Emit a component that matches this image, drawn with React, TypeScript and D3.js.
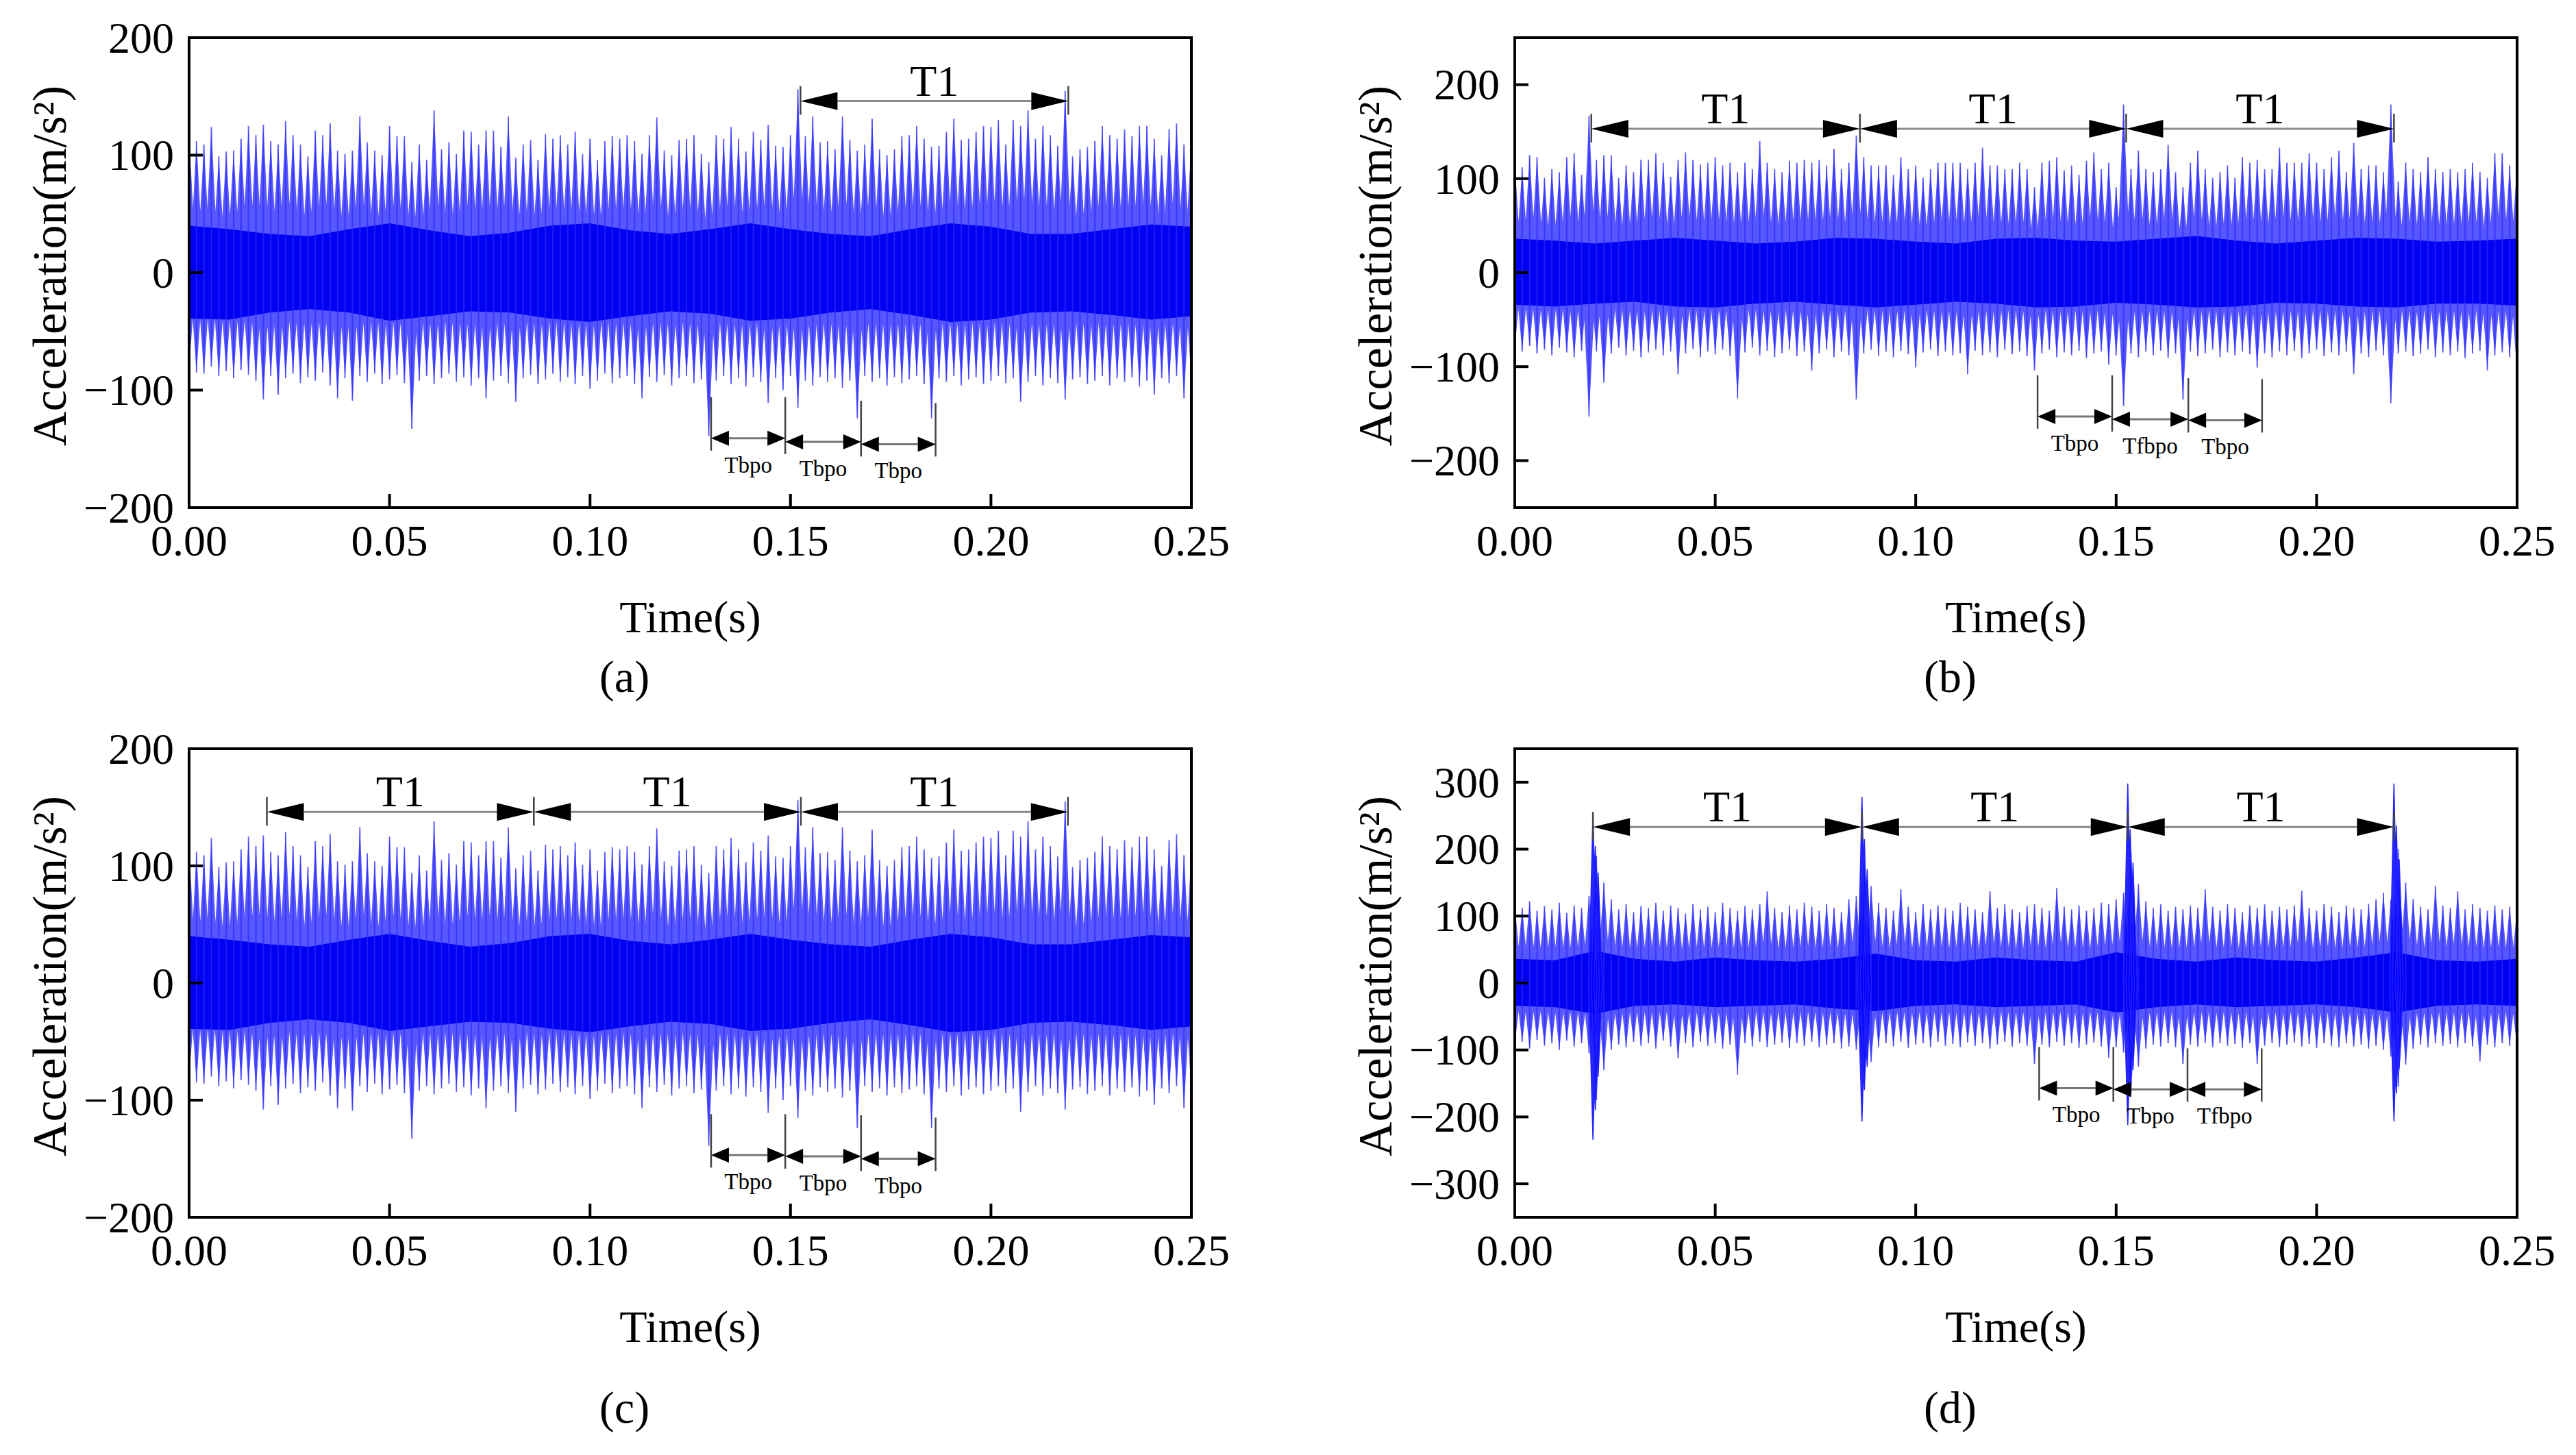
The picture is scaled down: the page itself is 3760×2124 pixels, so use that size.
import React from 'react';
import * as d3 from 'd3';

const W = 3760;
const H = 2124;
const FONT = "'Liberation Serif', 'Times New Roman', Times, serif";

// shared axes
const T_MAX = 0.25;
const CORE_DT = 0.01;
const xTicks = [0, 0.05, 0.1, 0.15, 0.2, 0.25];
const yTicks200 = [-200, -100, 0, 100, 200];
const yTicks300 = [-300, -200, -100, 0, 100, 200, 300];

// signal A (panels a and c): peak of every impact, ~0.00185 s apart
const sigA_hi = [
  120, 112, 109, 124, 99, 103, 104, 114, 125, 117, 126, 112, 109, 129, 117, 109, 99, 121, 117, 127,
  104, 101, 104, 133, 111, 104, 100, 125, 116, 116, 94, 109, 96, 138, 105, 111, 101, 121, 120, 109,
  121, 121, 107, 133, 98, 109, 113, 96, 118, 114, 117, 109, 120, 101, 114, 96, 112, 116, 114, 117,
  112, 101, 117, 132, 104, 100, 113, 114,
  117, 101, 94, 117, 114, 124, 114, 103, 120, 113, 126, 108, 107, 117, 156, 116, 133, 111, 112, 105,
  133, 113, 104, 109, 131, 105, 100, 105, 116, 117, 125, 114, 107, 108, 120, 131, 113, 114, 120, 125,
  124, 130, 109, 130, 125, 138, 114, 125, 117, 108, 155, 99, 105, 107, 112, 125, 117, 114, 122, 116,
  125, 125, 114, 100, 122, 127, 109, 114,
];
const sigA_lo = [
  -82, -85, -86, -80, -88, -84, -90, -83, -87, -92, -108, -88, -104, -90, -86, -94, -89, -92, -85, -96,
  -107, -90, -109, -88, -93, -86, -95, -91, -87, -94, -133, -92, -88, -95, -90, -86, -93, -89, -96, -90,
  -107, -92, -88, -94, -110, -90, -87, -95, -91, -86, -93, -89, -95, -88, -99, -92, -86, -94, -90, -88,
  -95, -107, -89, -93, -87, -96, -90, -88, -94, -91, -139, -92, -88, -95, -90, -97, -89, -93, -111, -90,
  -100, -88, -115, -92, -96, -89, -93, -90, -98, -92, -124, -88, -93, -90, -96, -89, -94, -91, -88, -95,
  -124, -90, -93, -88, -96, -91, -89, -95, -92, -88, -94, -90, -110, -93, -88, -96, -90, -94, -108, -91,
  -89, -95, -92, -88, -96, -90, -93, -89, -97, -92, -104, -90, -94, -88, -107, -92,
];
const coreA_hi = [40, 37, 33, 31, 37, 42, 36, 31, 34, 40, 42, 36, 33, 37, 42, 37, 33, 31, 37, 42, 39, 33, 33, 37, 41, 39];
const coreA_lo = [-39, -40, -34, -31, -34, -41, -37, -33, -34, -39, -42, -37, -33, -35, -41, -39, -34, -31, -36, -42, -40, -34, -33, -36, -40, -37];

// signal B (panel b)
const sigB_hi = [
  117, 112, 125, 123, 101, 110, 107, 123, 127, 104, 167, 120, 125, 125, 101, 114, 107, 120, 120, 127,
  117, 102, 120, 128, 120, 115, 117, 123, 114, 117, 107, 117, 110, 140, 117, 110, 107, 119, 117, 120,
  117, 120, 114, 132, 110, 117, 146, 123, 114, 114, 114, 104, 123, 110, 114, 101, 110, 117, 117, 117,
  117, 110, 117, 133, 114, 114, 110, 110,
  117, 110, 91, 117, 119, 123, 109, 114, 104, 119, 128, 110, 117, 91, 179, 110, 130, 110, 107, 110,
  136, 107, 91, 117, 130, 110, 101, 107, 114, 101, 123, 117, 120, 110, 110, 133, 117, 117, 117, 127,
  117, 110, 123, 130, 107, 138, 110, 114, 114, 107, 179, 97, 117, 110, 107, 123, 110, 107, 110, 107,
  110, 117, 107, 101, 127, 127, 114, 117,
];
const sigB_lo = [
  -80, -84, -78, -86, -82, -88, -80, -85, -90, -83, -153, -84, -117, -86, -80, -88, -83, -90, -85, -82,
  -88, -84, -108, -86, -81, -90, -84, -87, -82, -89, -134, -85, -80, -88, -83, -90, -86, -82, -89, -84,
  -104, -86, -82, -90, -84, -88, -135, -86, -82, -89, -84, -90, -83, -87, -101, -85, -82, -89, -84, -88,
  -86, -108, -83, -88, -85, -90, -82, -87, -84, -89, -104, -86, -82, -90, -85, -88, -83, -91, -86, -84,
  -98, -88, -142, -86, -90, -84, -88, -83, -91, -86, -135, -84, -89, -86, -82, -90, -85, -88, -84, -87,
  -101, -86, -90, -84, -88, -83, -91, -86, -82, -89, -85, -88, -84, -108, -86, -90, -83, -88, -139, -86,
  -84, -89, -86, -82, -90, -85, -88, -84, -91, -86, -83, -104, -88, -85, -90, -108,
];
const coreB_hi = [36, 34, 31, 34, 37, 34, 31, 33, 37, 36, 33, 31, 36, 37, 34, 33, 36, 39, 34, 31, 34, 37, 36, 33, 34, 36];
const coreB_lo = [-34, -36, -33, -31, -36, -37, -33, -31, -34, -37, -34, -31, -33, -37, -36, -32, -34, -37, -36, -32, -33, -36, -37, -33, -33, -35];

// signal D (panel d)
const sigD_hi = [
  118, 112, 122, 108, 115, 110, 120, 105, 116, 112, 130, 190, 150, 125, 110, 118, 106, 115, 112, 120,
  108, 116, 112, 104, 118, 110, 114, 106, 120, 112, 108, 115, 110, 118, 137, 112, 106, 116, 110, 120,
  114, 108, 118, 112, 106, 125, 130, 185, 145, 120, 112, 108, 140, 114, 106, 118, 110, 116, 112, 108,
  120, 114, 110, 106, 137, 112, 118, 110, 106, 115, 118, 112, 108, 142, 114, 110, 116, 108, 112, 120,
  118, 125, 135, 195, 148, 122, 112, 118, 108, 114, 110, 116, 112, 140, 114, 108, 118, 112, 106, 116,
  112, 118, 108, 114, 110, 116, 138, 112, 108, 118, 114, 106, 116, 112, 110, 118, 125, 135, 125, 200,
  150, 125, 114, 110, 145, 116, 112, 137, 110, 118, 112, 108, 116, 110, 114, 112,
];
const sigD_lo = [
  -92, -88, -98, -85, -94, -90, -100, -86, -95, -90, -105, -175, -130, -100, -92, -96, -88, -94, -90, -98,
  -86, -95, -112, -90, -96, -88, -94, -90, -98, -92, -137, -90, -95, -88, -96, -92, -89, -97, -90, -94,
  -88, -96, -92, -90, -98, -95, -100, -150, -118, -96, -90, -95, -88, -97, -92, -90, -96, -88, -94, -91,
  -96, -89, -94, -90, -98, -92, -88, -95, -90, -94, -121, -92, -96, -88, -94, -90, -97, -92, -89, -95,
  -112, -96, -104, -165, -125, -98, -92, -95, -90, -96, -121, -92, -95, -89, -96, -90, -94, -91, -97, -90,
  -121, -94, -90, -96, -92, -89, -95, -91, -97, -90, -94, -96, -90, -95, -92, -98, -94, -100, -110, -155,
  -122, -98, -92, -96, -90, -94, -91, -96, -90, -95, -117, -92, -96, -90, -94, -98,
];
const coreD_hi = [36, 34, 48, 36, 32, 38, 34, 32, 36, 44, 34, 32, 38, 34, 32, 46, 36, 32, 38, 34, 32, 38, 46, 34, 32, 36];
const coreD_lo = [-34, -36, -46, -34, -32, -36, -34, -32, -38, -42, -34, -32, -36, -34, -32, -44, -36, -32, -36, -34, -32, -36, -44, -34, -32, -34];
// impacts of the fault in panel d and their first rebounds
const impD_t = [0.0195, 0.0201, 0.0208, 0.0866, 0.0872, 0.0879, 0.1529, 0.1535, 0.1542, 0.2193, 0.2199, 0.2206];
const impD_hi = [253, 205, 165, 278, 215, 170, 298, 230, 180, 298, 235, 185];
const impD_lo = [-234, -190, -140, -207, -160, -125, -212, -170, -130, -207, -165, -128];

// annotations
const t1A = [0.1525, 0.2193];
const t1B = [0.0191, 0.0861, 0.1525, 0.2193];
const t1C = [0.0194, 0.086, 0.1526, 0.2192];
const t1D = [0.0195, 0.0866, 0.1529, 0.2193];
const tbA = [0.1302, 0.1487, 0.1676, 0.1862];
const tbB = [0.1304, 0.149, 0.168, 0.1864];
const tbD = [0.1308, 0.1493, 0.1678, 0.1863];
const tbA_y = [-141, -144, -146];
const tbB_y = [-153, -156, -157];
const tbC_y = [-147, -148, -150];
const tbD_y = [-157, -159, -159];
const tbA_labels = ['Tbpo', 'Tbpo', 'Tbpo'];
const tbB_labels = ['Tbpo', 'Tfbpo', 'Tbpo'];
const tbD_labels = ['Tbpo', 'Tbpo', 'Tfbpo'];

const panels = [
  { id: 'a', left: 276, right: 1739, top: 55, bottom: 741, yDomain: [-200, 200], yTicks: yTicks200,
    hi: sigA_hi, lo: sigA_lo, coreHi: coreA_hi, coreLo: coreA_lo, imp: null,
    t1: t1A, t1Y: 146, tb: tbA, tbY: tbA_y, tbLabels: tbA_labels, caption: '(a)', captionY: 988 },
  { id: 'b', left: 2211, right: 3674, top: 55, bottom: 741, yDomain: [-250, 250], yTicks: yTicks200,
    hi: sigB_hi, lo: sigB_lo, coreHi: coreB_hi, coreLo: coreB_lo, imp: null,
    t1: t1B, t1Y: 153, tb: tbB, tbY: tbB_y, tbLabels: tbB_labels, caption: '(b)', captionY: 988 },
  { id: 'c', left: 276, right: 1739, top: 1093, bottom: 1777, yDomain: [-200, 200], yTicks: yTicks200,
    hi: sigA_hi, lo: sigA_lo, coreHi: coreA_hi, coreLo: coreA_lo, imp: null,
    t1: t1C, t1Y: 146, tb: tbA, tbY: tbC_y, tbLabels: tbA_labels, caption: '(c)', captionY: 2055 },
  { id: 'd', left: 2211, right: 3674, top: 1093, bottom: 1777, yDomain: [-350, 350], yTicks: yTicks300,
    hi: sigD_hi, lo: sigD_lo, coreHi: coreD_hi, coreLo: coreD_lo,
    imp: { t: impD_t, hi: impD_hi, lo: impD_lo },
    t1: t1D, t1Y: 233, tb: tbD, tbY: tbD_y, tbLabels: tbD_labels, caption: '(d)', captionY: 2055 },
];

function Arrow({ x1, x2, yy, len, half, shaft }) {
  return (
    <g>
      <line x1={x1 + len} x2={x2 - len} y1={yy} y2={yy} stroke={shaft} strokeWidth={3} />
      <path d={`M${x1},${yy}L${x1 + len},${yy - half}L${x1 + len},${yy + half}Z`} fill="#000" />
      <path d={`M${x2},${yy}L${x2 - len},${yy - half}L${x2 - len},${yy + half}Z`} fill="#000" />
    </g>
  );
}

function Panel({ p }) {
  const x = d3.scaleLinear().domain([0, T_MAX]).range([p.left, p.right]);
  const y = d3.scaleLinear().domain(p.yDomain).range([p.bottom, p.top]);
  const fmtX = d3.format('.2f');
  const fmtY = d3.format('d');
  const dt = T_MAX / (p.hi.length - 1);
  // wide-based spikes overlap near zero and thin out towards their peaks
  const w = (x(dt) - x(0)) * 0.95;
  const y0 = y(0);

  let spikes = '';
  let stems = '';
  p.hi.forEach((h, i) => {
    const cx = x(i * dt);
    spikes += `M${cx - w},${y0}L${cx},${y(h)}L${cx + w},${y0}L${cx},${y(p.lo[i])}Z`;
    stems += `M${cx},${y(p.lo[i])}V${y(h)}`;
  });
  let imps = '';
  if (p.imp) {
    p.imp.t.forEach((t, i) => {
      const cx = x(t);
      imps += `M${cx - 6},${y0}L${cx},${y(p.imp.hi[i])}L${cx + 6},${y0}L${cx},${y(p.imp.lo[i])}Z`;
    });
  }
  const core = d3
    .area<number>()
    .x((_, i) => x(i * CORE_DT))
    .y0((_, i) => y(p.coreLo[i]))
    .y1((d) => y(d))(p.coreHi);

  const cx = (p.left + p.right) / 2;
  const cy = (p.top + p.bottom) / 2;
  const t1y = y(p.t1Y);

  return (
    <g fontFamily={FONT} fill="#000">
      <defs>
        <clipPath id={`clip-${p.id}`}>
          <rect x={p.left} y={p.top} width={p.right - p.left} height={p.bottom - p.top} />
        </clipPath>
      </defs>
      <g clipPath={`url(#clip-${p.id})`}>
        <path d={spikes} fill="#1010ff" fillOpacity={0.7} />
        <path d={core} fill="#0000f2" />
        <path d={stems} stroke="#2a2aff" strokeOpacity={0.7} strokeWidth={2} fill="none" />
        {imps && <path d={imps} fill="#0000ff" fillOpacity={0.85} stroke="#2020ff" strokeWidth={1.5} />}
      </g>

      {/* T1 period arrows */}
      {p.t1.map((t, i) => (
        <line key={`t1m${i}`} x1={x(t)} x2={x(t)} y1={t1y - 22} y2={t1y + 20} stroke="#444" strokeWidth={2.5} />
      ))}
      {d3.pairs(p.t1).map(([a, b], i) => (
        <g key={`t1${i}`}>
          <Arrow x1={x(a)} x2={x(b)} yy={t1y} len={54} half={13} shaft="#8a8a8a" />
          <text x={(x(a) + x(b)) / 2} y={t1y - 8} textAnchor="middle" fontSize={64}>T1</text>
        </g>
      ))}

      {/* bearing pass arrows */}
      {p.tb.map((t, i) => {
        const ys = [p.tbY[i - 1], p.tbY[i]].filter((v) => v !== undefined).map((v) => y(v));
        return (
          <line key={`tbm${i}`} x1={x(t)} x2={x(t)} y1={Math.min(...ys) - 60} y2={Math.max(...ys) + 18}
            stroke="#444" strokeWidth={2.5} />
        );
      })}
      {d3.pairs(p.tb).map(([a, b], i) => (
        <g key={`tb${i}`}>
          <Arrow x1={x(a)} x2={x(b)} yy={y(p.tbY[i])} len={26} half={11} shaft="#777" />
          <text x={(x(a) + x(b)) / 2} y={y(p.tbY[i]) + 50} textAnchor="middle" fontSize={33}>
            {p.tbLabels[i]}
          </text>
        </g>
      ))}

      {/* frame and ticks */}
      <rect x={p.left} y={p.top} width={p.right - p.left} height={p.bottom - p.top} fill="none" stroke="#000" strokeWidth={4} />
      {xTicks.map((t) => (
        <g key={`xt${t}`}>
          <line x1={x(t)} x2={x(t)} y1={p.bottom} y2={p.bottom - 20} stroke="#000" strokeWidth={4} />
          <text x={x(t)} y={p.bottom + 70} textAnchor="middle" fontSize={64}>{fmtX(t)}</text>
        </g>
      ))}
      {p.yTicks.map((v) => (
        <g key={`yt${v}`}>
          <line x1={p.left} x2={p.left + 20} y1={y(v)} y2={y(v)} stroke="#000" strokeWidth={4} />
          <text x={p.left - 22} y={y(v)} dy="0.34em" textAnchor="end" fontSize={64}>{fmtY(v)}</text>
        </g>
      ))}

      <text x={cx} y={p.bottom + 182} textAnchor="middle" fontSize={66}>Time(s)</text>
      <text transform={`translate(${p.left - 204},${cy - 10}) rotate(-90)`} textAnchor="middle"
        dominantBaseline="central" fontSize={70}>Acceleration(m/s²)</text>
      <text x={cx - 96} y={p.captionY} dy="0.34em" textAnchor="middle" fontSize={66}>{p.caption}</text>
    </g>
  );
}

export default function App() {
  return (
    <svg width={W} height={H} viewBox={`0 0 ${W} ${H}`}
      style={{ position: 'absolute', left: 0, top: 0, background: '#fff', display: 'block' }}>
      <rect width={W} height={H} fill="#fff" />
      {panels.map((p) => <Panel key={p.id} p={p} />)}
    </svg>
  );
}
